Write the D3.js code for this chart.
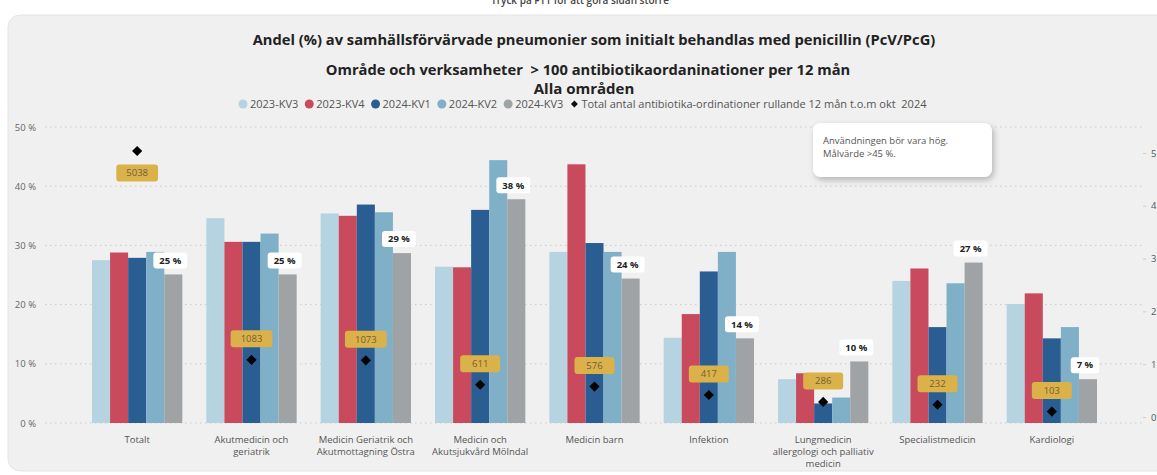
<!DOCTYPE html>
<html>
<head>
<meta charset="utf-8">
<script src="https://cdn.jsdelivr.net/npm/d3@7"></script>
<style>
  body { margin: 0; background: #fff; font-family: "Open Sans", sans-serif; }
  text { white-space: pre; }
</style>
</head>
<body>
<div id="chart"></div>
<script>
// data
var categories = ["Totalt", "Akutmedicin och\ngeriatrik", "Medicin Geriatrik och\nAkutmottagning Östra",
  "Medicin och\nAkutsjukvård Mölndal", "Medicin barn", "Infektion",
  "Lungmedicin\nallergologi och palliativ\nmedicin", "Specialistmedicin", "Kardiologi"];
var periods = ["2023-KV3", "2023-KV4", "2024-KV1", "2024-KV2", "2024-KV3"];
var kv3_2023 = [27.5, 34.6, 35.4, 26.4, 28.9, 14.4, 7.4, 24.0, 20.1];
var kv4_2023 = [28.8, 30.6, 35.0, 26.3, 43.7, 18.4, 8.4, 26.1, 21.9];
var kv1_2024 = [27.9, 30.6, 36.9, 36.0, 30.4, 25.6, 3.3, 16.2, 14.3];
var kv2_2024 = [28.9, 32.0, 35.6, 44.4, 28.9, 28.9, 4.3, 23.6, 16.2];
var kv3_2024 = [25.1, 25.1, 28.7, 37.8, 24.4, 14.3, 10.4, 27.1, 7.4];
var totals = [5038, 1083, 1073, 611, 576, 417, 286, 232, 103];
var yTicks = [0, 10, 20, 30, 40, 50];
var y2Ticks = [0, 1000, 2000, 3000, 4000, 5000];
var totalLabel = "Total antal antibiotika-ordinationer rullande 12 mån t.o.m okt  2024";

var series = [kv3_2023, kv4_2023, kv1_2024, kv2_2024, kv3_2024];
var colors = ["#b5d3e0", "#c84a5c", "#2a5e92", "#7fb0c8", "#a0a3a5"];

var W = 1157, H = 475;
var svg = d3.select("#chart").append("svg").attr("width", W).attr("height", H);

var defs = svg.append("defs");
var f = defs.append("filter").attr("id", "shadow").attr("x", "-20%").attr("y", "-30%").attr("width", "140%").attr("height", "170%");
f.append("feDropShadow").attr("dx", 2).attr("dy", 3).attr("stdDeviation", 3).attr("flood-color", "#000").attr("flood-opacity", 0.25);

// clipped hint text at very top
svg.append("text").attr("x", 580).attr("y", 4).attr("text-anchor", "middle")
  .style("font-size", "10px").style("font-weight", 600).attr("fill", "#444")
  .text("Tryck på F11 för att göra sidan större");

// panel
svg.append("rect").attr("x", 8).attr("y", 15).attr("width", 1170).attr("height", 456)
  .attr("rx", 12).attr("fill", "#f0f0f0").attr("stroke", "#e4e4e4");

// titles
svg.append("text").attr("x", 594).attr("y", 45).attr("text-anchor", "middle")
  .style("font-size", "14.7px").style("font-weight", 700).attr("fill", "#222")
  .text("Andel (%) av samhällsförvärvade pneumonier som initialt behandlas med penicillin (PcV/PcG)");
svg.append("text").attr("x", 588).attr("y", 75).attr("text-anchor", "middle")
  .style("font-size", "14.7px").style("font-weight", 700).attr("fill", "#222")
  .text("Område och verksamheter  > 100 antibiotikaordaninationer per 12 mån");
svg.append("text").attr("x", 584).attr("y", 94).attr("text-anchor", "middle")
  .style("font-size", "15px").style("font-weight", 700).attr("fill", "#222")
  .text("Alla områden");

// legend
var lx = 243;
var legend = svg.append("g").style("font-size", "11px");
periods.forEach(function (p, i) {
  legend.append("circle").attr("cx", lx).attr("cy", 104).attr("r", 4.5).attr("fill", colors[i]);
  var t = legend.append("text").attr("x", lx + 7).attr("y", 108).attr("fill", "#555").text(p);
  lx += 7 + t.node().getComputedTextLength() + 11;
});
legend.append("path").attr("d", d3.symbol(d3.symbolSquare, 24)())
  .attr("transform", "translate(" + lx + ",104) rotate(45)").attr("fill", "#111");
legend.append("text").attr("x", lx + 7).attr("y", 108).attr("fill", "#555").text(totalLabel);

// scales
var x = d3.scaleBand().domain(categories).range([80, 1109]).paddingInner(0.21).paddingOuter(0.105);
var x1 = d3.scaleBand().domain(periods).range([0, x.bandwidth()]);
var y = d3.scaleLinear().domain([0, 50]).range([423, 127]);
var y2 = d3.scaleLinear().domain([0, 5000]).range([417, 153]);

// gridlines
svg.append("g").selectAll("line").data(yTicks).join("line")
  .attr("x1", 45).attr("x2", 1145).attr("y1", function (d) { return y(d); }).attr("y2", function (d) { return y(d); })
  .attr("stroke", "#c9c9c9").attr("stroke-dasharray", "1.5,3.5");

// left axis
var yAxis = svg.append("g").attr("transform", "translate(36,0)")
  .call(d3.axisLeft(y).tickValues(yTicks).tickSize(0).tickPadding(0).tickFormat(function (d) { return d + " %"; }));
yAxis.select(".domain").remove();
yAxis.selectAll("text").style("font-size", "9.5px").style("font-family", "Open Sans").attr("fill", "#666");

// right axis (clipped by window edge, as in the source)
var y2Axis = svg.append("g").attr("transform", "translate(1143,0)")
  .call(d3.axisRight(y2).tickValues(y2Ticks).tickSize(3).tickPadding(5)
    .tickFormat(function (d) { return d3.format(",")(d).replace(",", " "); }));
y2Axis.select(".domain").remove();
y2Axis.selectAll("line").attr("stroke", "#ccc");
y2Axis.selectAll("text").style("font-size", "9.5px").style("font-family", "Open Sans").attr("fill", "#555");

// bars
var groups = svg.append("g").selectAll("g").data(categories).join("g")
  .attr("transform", function (d) { return "translate(" + x(d) + ",0)"; });
groups.each(function (c, ci) {
  var g = d3.select(this);
  periods.forEach(function (p, pi) {
    var v = series[pi][ci];
    g.append("rect").attr("x", x1(p)).attr("width", x1.bandwidth())
      .attr("y", y(v)).attr("height", y(0) - y(v)).attr("fill", colors[pi]);
  });
});

// category labels
categories.forEach(function (c) {
  var t = svg.append("text").attr("text-anchor", "middle").attr("y", 443)
    .style("font-size", "9.5px").attr("fill", "#555");
  c.split("\n").forEach(function (line, i) {
    t.append("tspan").attr("x", x(c) + x.bandwidth() / 2).attr("dy", i ? 12 : 0).text(line);
  });
});

// percent labels on last period
categories.forEach(function (c, ci) {
  var v = kv3_2024[ci];
  var cx = x(c) + x1("2024-KV3") + x1.bandwidth() / 2 - 3;
  var cy = y(v) - 14;
  var g = svg.append("g");
  var t = g.append("text").attr("x", cx).attr("y", cy + 3.3).attr("text-anchor", "middle")
    .style("font-size", "9.5px").style("font-weight", 700).attr("fill", "#222")
    .text(Math.round(v) + " %");
  var w = t.node().getComputedTextLength() + 12;
  g.insert("rect", "text").attr("x", cx - w / 2).attr("y", cy - 8).attr("width", w).attr("height", 16)
    .attr("rx", 3).attr("fill", "#fff");
});

// totals: diamonds + gold labels
categories.forEach(function (c, ci) {
  var v = totals[ci];
  var cx = x(c) + x.bandwidth() / 2;
  var cy = y2(v);
  svg.append("path").attr("d", d3.symbol(d3.symbolSquare, 52)())
    .attr("transform", "translate(" + cx + "," + cy + ") rotate(45)").attr("fill", "#000");
  var ly = cy < 200 ? cy + 22 : cy - 21;
  var g = svg.append("g");
  var t = g.append("text").attr("x", cx).attr("y", ly + 3.5).attr("text-anchor", "middle")
    .style("font-size", "9.5px").attr("fill", "#6f5f3a").text(v);
  var w = Math.max(t.node().getComputedTextLength() + 20, 40);
  g.insert("rect", "text").attr("x", cx - w / 2).attr("y", ly - 8.5).attr("width", w).attr("height", 17)
    .attr("rx", 3).attr("fill", "#dbb14a");
});

// note box
var note = svg.append("g");
note.append("rect").attr("x", 813).attr("y", 123).attr("width", 179).attr("height", 54).attr("rx", 8)
  .attr("fill", "#fff").attr("filter", "url(#shadow)");
note.append("text").attr("x", 823).attr("y", 144).style("font-size", "9.5px").attr("fill", "#555")
  .text("Användningen bör vara hög.");
note.append("text").attr("x", 823).attr("y", 157).style("font-size", "9.5px").attr("fill", "#555")
  .text("Målvärde >45 %.");
</script>
</body>
</html>
